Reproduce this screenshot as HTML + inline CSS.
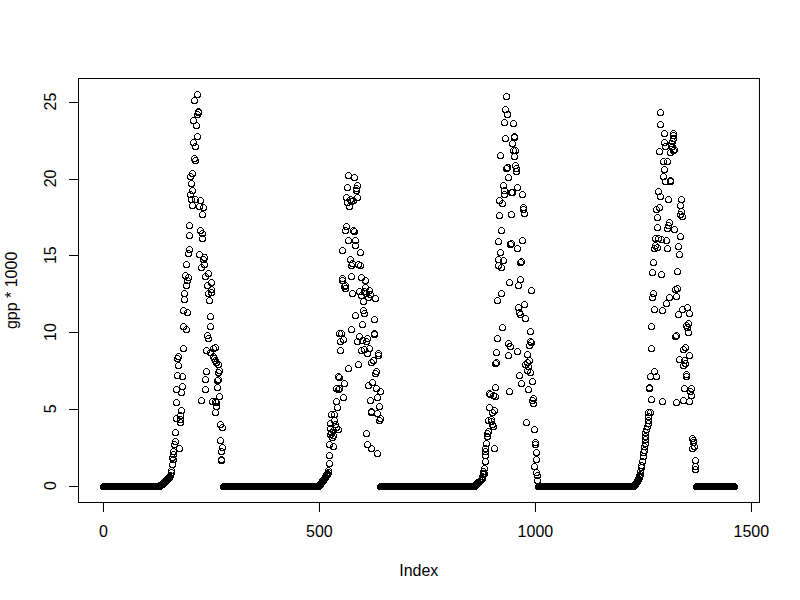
<!DOCTYPE html><html><head><meta charset="utf-8"><title>plot</title><style>html,body{margin:0;padding:0;background:#fff;width:800px;height:600px;overflow:hidden;font-family:"Liberation Sans",sans-serif}</style></head><body><svg width="800" height="600" viewBox="0 0 800 600" style="position:absolute;left:0;top:0">
<rect x="0" y="0" width="800" height="600" fill="#fff"/>
<g fill="none" stroke="#000" stroke-width="1" shape-rendering="crispEdges">
<rect x="78.5" y="78.5" width="681.0" height="424.0"/>
<line x1="103.5" y1="502.5" x2="103.5" y2="512"/>
<line x1="319.5" y1="502.5" x2="319.5" y2="512"/>
<line x1="535.5" y1="502.5" x2="535.5" y2="512"/>
<line x1="751.5" y1="502.5" x2="751.5" y2="512"/>
<line x1="69" y1="486.5" x2="78.5" y2="486.5"/>
<line x1="69" y1="409.5" x2="78.5" y2="409.5"/>
<line x1="69" y1="332.5" x2="78.5" y2="332.5"/>
<line x1="69" y1="255.5" x2="78.5" y2="255.5"/>
<line x1="69" y1="179.5" x2="78.5" y2="179.5"/>
<line x1="69" y1="102.5" x2="78.5" y2="102.5"/>
</g>
<g fill="none" stroke="#000" stroke-width="1" shape-rendering="crispEdges">
<circle cx="103.5" cy="486.5" r="3"/>
<circle cx="104.5" cy="486.5" r="3"/>
<circle cx="104.5" cy="486.5" r="3"/>
<circle cx="105.5" cy="486.5" r="3"/>
<circle cx="105.5" cy="486.5" r="3"/>
<circle cx="106.5" cy="486.5" r="3"/>
<circle cx="106.5" cy="486.5" r="3"/>
<circle cx="106.5" cy="486.5" r="3"/>
<circle cx="107.5" cy="486.5" r="3"/>
<circle cx="107.5" cy="486.5" r="3"/>
<circle cx="108.5" cy="486.5" r="3"/>
<circle cx="108.5" cy="486.5" r="3"/>
<circle cx="109.5" cy="486.5" r="3"/>
<circle cx="109.5" cy="486.5" r="3"/>
<circle cx="109.5" cy="486.5" r="3"/>
<circle cx="110.5" cy="486.5" r="3"/>
<circle cx="110.5" cy="486.5" r="3"/>
<circle cx="111.5" cy="486.5" r="3"/>
<circle cx="111.5" cy="486.5" r="3"/>
<circle cx="112.5" cy="486.5" r="3"/>
<circle cx="112.5" cy="486.5" r="3"/>
<circle cx="113.5" cy="486.5" r="3"/>
<circle cx="113.5" cy="486.5" r="3"/>
<circle cx="113.5" cy="486.5" r="3"/>
<circle cx="114.5" cy="486.5" r="3"/>
<circle cx="114.5" cy="486.5" r="3"/>
<circle cx="115.5" cy="486.5" r="3"/>
<circle cx="115.5" cy="486.5" r="3"/>
<circle cx="116.5" cy="486.5" r="3"/>
<circle cx="116.5" cy="486.5" r="3"/>
<circle cx="116.5" cy="486.5" r="3"/>
<circle cx="117.5" cy="486.5" r="3"/>
<circle cx="117.5" cy="486.5" r="3"/>
<circle cx="118.5" cy="486.5" r="3"/>
<circle cx="118.5" cy="486.5" r="3"/>
<circle cx="119.5" cy="486.5" r="3"/>
<circle cx="119.5" cy="486.5" r="3"/>
<circle cx="119.5" cy="486.5" r="3"/>
<circle cx="120.5" cy="486.5" r="3"/>
<circle cx="120.5" cy="486.5" r="3"/>
<circle cx="121.5" cy="486.5" r="3"/>
<circle cx="121.5" cy="486.5" r="3"/>
<circle cx="122.5" cy="486.5" r="3"/>
<circle cx="122.5" cy="486.5" r="3"/>
<circle cx="122.5" cy="486.5" r="3"/>
<circle cx="123.5" cy="486.5" r="3"/>
<circle cx="123.5" cy="486.5" r="3"/>
<circle cx="124.5" cy="486.5" r="3"/>
<circle cx="124.5" cy="486.5" r="3"/>
<circle cx="125.5" cy="486.5" r="3"/>
<circle cx="125.5" cy="486.5" r="3"/>
<circle cx="125.5" cy="486.5" r="3"/>
<circle cx="126.5" cy="486.5" r="3"/>
<circle cx="126.5" cy="486.5" r="3"/>
<circle cx="127.5" cy="486.5" r="3"/>
<circle cx="127.5" cy="486.5" r="3"/>
<circle cx="128.5" cy="486.5" r="3"/>
<circle cx="128.5" cy="486.5" r="3"/>
<circle cx="128.5" cy="486.5" r="3"/>
<circle cx="129.5" cy="486.5" r="3"/>
<circle cx="129.5" cy="486.5" r="3"/>
<circle cx="130.5" cy="486.5" r="3"/>
<circle cx="130.5" cy="486.5" r="3"/>
<circle cx="131.5" cy="486.5" r="3"/>
<circle cx="131.5" cy="486.5" r="3"/>
<circle cx="132.5" cy="486.5" r="3"/>
<circle cx="132.5" cy="486.5" r="3"/>
<circle cx="132.5" cy="486.5" r="3"/>
<circle cx="133.5" cy="486.5" r="3"/>
<circle cx="133.5" cy="486.5" r="3"/>
<circle cx="134.5" cy="486.5" r="3"/>
<circle cx="134.5" cy="486.5" r="3"/>
<circle cx="135.5" cy="486.5" r="3"/>
<circle cx="135.5" cy="486.5" r="3"/>
<circle cx="135.5" cy="486.5" r="3"/>
<circle cx="136.5" cy="486.5" r="3"/>
<circle cx="136.5" cy="486.5" r="3"/>
<circle cx="137.5" cy="486.5" r="3"/>
<circle cx="137.5" cy="486.5" r="3"/>
<circle cx="138.5" cy="486.5" r="3"/>
<circle cx="138.5" cy="486.5" r="3"/>
<circle cx="138.5" cy="486.5" r="3"/>
<circle cx="139.5" cy="486.5" r="3"/>
<circle cx="139.5" cy="486.5" r="3"/>
<circle cx="140.5" cy="486.5" r="3"/>
<circle cx="140.5" cy="486.5" r="3"/>
<circle cx="141.5" cy="486.5" r="3"/>
<circle cx="141.5" cy="486.5" r="3"/>
<circle cx="141.5" cy="486.5" r="3"/>
<circle cx="142.5" cy="486.5" r="3"/>
<circle cx="142.5" cy="486.5" r="3"/>
<circle cx="143.5" cy="486.5" r="3"/>
<circle cx="143.5" cy="486.5" r="3"/>
<circle cx="144.5" cy="486.5" r="3"/>
<circle cx="144.5" cy="486.5" r="3"/>
<circle cx="144.5" cy="486.5" r="3"/>
<circle cx="145.5" cy="486.5" r="3"/>
<circle cx="145.5" cy="486.5" r="3"/>
<circle cx="146.5" cy="486.5" r="3"/>
<circle cx="146.5" cy="486.5" r="3"/>
<circle cx="147.5" cy="486.5" r="3"/>
<circle cx="147.5" cy="486.5" r="3"/>
<circle cx="147.5" cy="486.5" r="3"/>
<circle cx="148.5" cy="486.5" r="3"/>
<circle cx="148.5" cy="486.5" r="3"/>
<circle cx="149.5" cy="486.5" r="3"/>
<circle cx="149.5" cy="486.5" r="3"/>
<circle cx="150.5" cy="486.5" r="3"/>
<circle cx="150.5" cy="486.5" r="3"/>
<circle cx="151.5" cy="486.5" r="3"/>
<circle cx="151.5" cy="486.5" r="3"/>
<circle cx="151.5" cy="486.5" r="3"/>
<circle cx="152.5" cy="486.5" r="3"/>
<circle cx="152.5" cy="486.5" r="3"/>
<circle cx="153.5" cy="486.5" r="3"/>
<circle cx="153.5" cy="486.5" r="3"/>
<circle cx="154.5" cy="486.5" r="3"/>
<circle cx="154.5" cy="486.5" r="3"/>
<circle cx="154.5" cy="486.5" r="3"/>
<circle cx="155.5" cy="486.5" r="3"/>
<circle cx="155.5" cy="486.5" r="3"/>
<circle cx="156.5" cy="486.5" r="3"/>
<circle cx="156.5" cy="486.5" r="3"/>
<circle cx="157.5" cy="486.5" r="3"/>
<circle cx="157.5" cy="486.5" r="3"/>
<circle cx="223.5" cy="486.5" r="3"/>
<circle cx="223.5" cy="486.5" r="3"/>
<circle cx="224.5" cy="486.5" r="3"/>
<circle cx="224.5" cy="486.5" r="3"/>
<circle cx="225.5" cy="486.5" r="3"/>
<circle cx="225.5" cy="486.5" r="3"/>
<circle cx="226.5" cy="486.5" r="3"/>
<circle cx="226.5" cy="486.5" r="3"/>
<circle cx="227.5" cy="486.5" r="3"/>
<circle cx="227.5" cy="486.5" r="3"/>
<circle cx="227.5" cy="486.5" r="3"/>
<circle cx="228.5" cy="486.5" r="3"/>
<circle cx="228.5" cy="486.5" r="3"/>
<circle cx="229.5" cy="486.5" r="3"/>
<circle cx="229.5" cy="486.5" r="3"/>
<circle cx="230.5" cy="486.5" r="3"/>
<circle cx="230.5" cy="486.5" r="3"/>
<circle cx="230.5" cy="486.5" r="3"/>
<circle cx="231.5" cy="486.5" r="3"/>
<circle cx="231.5" cy="486.5" r="3"/>
<circle cx="232.5" cy="486.5" r="3"/>
<circle cx="232.5" cy="486.5" r="3"/>
<circle cx="233.5" cy="486.5" r="3"/>
<circle cx="233.5" cy="486.5" r="3"/>
<circle cx="233.5" cy="486.5" r="3"/>
<circle cx="234.5" cy="486.5" r="3"/>
<circle cx="234.5" cy="486.5" r="3"/>
<circle cx="235.5" cy="486.5" r="3"/>
<circle cx="235.5" cy="486.5" r="3"/>
<circle cx="236.5" cy="486.5" r="3"/>
<circle cx="236.5" cy="486.5" r="3"/>
<circle cx="236.5" cy="486.5" r="3"/>
<circle cx="237.5" cy="486.5" r="3"/>
<circle cx="237.5" cy="486.5" r="3"/>
<circle cx="238.5" cy="486.5" r="3"/>
<circle cx="238.5" cy="486.5" r="3"/>
<circle cx="239.5" cy="486.5" r="3"/>
<circle cx="239.5" cy="486.5" r="3"/>
<circle cx="239.5" cy="486.5" r="3"/>
<circle cx="240.5" cy="486.5" r="3"/>
<circle cx="240.5" cy="486.5" r="3"/>
<circle cx="241.5" cy="486.5" r="3"/>
<circle cx="241.5" cy="486.5" r="3"/>
<circle cx="242.5" cy="486.5" r="3"/>
<circle cx="242.5" cy="486.5" r="3"/>
<circle cx="243.5" cy="486.5" r="3"/>
<circle cx="243.5" cy="486.5" r="3"/>
<circle cx="243.5" cy="486.5" r="3"/>
<circle cx="244.5" cy="486.5" r="3"/>
<circle cx="244.5" cy="486.5" r="3"/>
<circle cx="245.5" cy="486.5" r="3"/>
<circle cx="245.5" cy="486.5" r="3"/>
<circle cx="246.5" cy="486.5" r="3"/>
<circle cx="246.5" cy="486.5" r="3"/>
<circle cx="246.5" cy="486.5" r="3"/>
<circle cx="247.5" cy="486.5" r="3"/>
<circle cx="247.5" cy="486.5" r="3"/>
<circle cx="248.5" cy="486.5" r="3"/>
<circle cx="248.5" cy="486.5" r="3"/>
<circle cx="249.5" cy="486.5" r="3"/>
<circle cx="249.5" cy="486.5" r="3"/>
<circle cx="249.5" cy="486.5" r="3"/>
<circle cx="250.5" cy="486.5" r="3"/>
<circle cx="250.5" cy="486.5" r="3"/>
<circle cx="251.5" cy="486.5" r="3"/>
<circle cx="251.5" cy="486.5" r="3"/>
<circle cx="252.5" cy="486.5" r="3"/>
<circle cx="252.5" cy="486.5" r="3"/>
<circle cx="252.5" cy="486.5" r="3"/>
<circle cx="253.5" cy="486.5" r="3"/>
<circle cx="253.5" cy="486.5" r="3"/>
<circle cx="254.5" cy="486.5" r="3"/>
<circle cx="254.5" cy="486.5" r="3"/>
<circle cx="255.5" cy="486.5" r="3"/>
<circle cx="255.5" cy="486.5" r="3"/>
<circle cx="255.5" cy="486.5" r="3"/>
<circle cx="256.5" cy="486.5" r="3"/>
<circle cx="256.5" cy="486.5" r="3"/>
<circle cx="257.5" cy="486.5" r="3"/>
<circle cx="257.5" cy="486.5" r="3"/>
<circle cx="258.5" cy="486.5" r="3"/>
<circle cx="258.5" cy="486.5" r="3"/>
<circle cx="258.5" cy="486.5" r="3"/>
<circle cx="259.5" cy="486.5" r="3"/>
<circle cx="259.5" cy="486.5" r="3"/>
<circle cx="260.5" cy="486.5" r="3"/>
<circle cx="260.5" cy="486.5" r="3"/>
<circle cx="261.5" cy="486.5" r="3"/>
<circle cx="261.5" cy="486.5" r="3"/>
<circle cx="262.5" cy="486.5" r="3"/>
<circle cx="262.5" cy="486.5" r="3"/>
<circle cx="262.5" cy="486.5" r="3"/>
<circle cx="263.5" cy="486.5" r="3"/>
<circle cx="263.5" cy="486.5" r="3"/>
<circle cx="264.5" cy="486.5" r="3"/>
<circle cx="264.5" cy="486.5" r="3"/>
<circle cx="265.5" cy="486.5" r="3"/>
<circle cx="265.5" cy="486.5" r="3"/>
<circle cx="265.5" cy="486.5" r="3"/>
<circle cx="266.5" cy="486.5" r="3"/>
<circle cx="266.5" cy="486.5" r="3"/>
<circle cx="267.5" cy="486.5" r="3"/>
<circle cx="267.5" cy="486.5" r="3"/>
<circle cx="268.5" cy="486.5" r="3"/>
<circle cx="268.5" cy="486.5" r="3"/>
<circle cx="268.5" cy="486.5" r="3"/>
<circle cx="269.5" cy="486.5" r="3"/>
<circle cx="269.5" cy="486.5" r="3"/>
<circle cx="270.5" cy="486.5" r="3"/>
<circle cx="270.5" cy="486.5" r="3"/>
<circle cx="271.5" cy="486.5" r="3"/>
<circle cx="271.5" cy="486.5" r="3"/>
<circle cx="271.5" cy="486.5" r="3"/>
<circle cx="272.5" cy="486.5" r="3"/>
<circle cx="272.5" cy="486.5" r="3"/>
<circle cx="273.5" cy="486.5" r="3"/>
<circle cx="273.5" cy="486.5" r="3"/>
<circle cx="274.5" cy="486.5" r="3"/>
<circle cx="274.5" cy="486.5" r="3"/>
<circle cx="274.5" cy="486.5" r="3"/>
<circle cx="275.5" cy="486.5" r="3"/>
<circle cx="275.5" cy="486.5" r="3"/>
<circle cx="276.5" cy="486.5" r="3"/>
<circle cx="276.5" cy="486.5" r="3"/>
<circle cx="277.5" cy="486.5" r="3"/>
<circle cx="277.5" cy="486.5" r="3"/>
<circle cx="277.5" cy="486.5" r="3"/>
<circle cx="278.5" cy="486.5" r="3"/>
<circle cx="278.5" cy="486.5" r="3"/>
<circle cx="279.5" cy="486.5" r="3"/>
<circle cx="279.5" cy="486.5" r="3"/>
<circle cx="280.5" cy="486.5" r="3"/>
<circle cx="280.5" cy="486.5" r="3"/>
<circle cx="281.5" cy="486.5" r="3"/>
<circle cx="281.5" cy="486.5" r="3"/>
<circle cx="281.5" cy="486.5" r="3"/>
<circle cx="282.5" cy="486.5" r="3"/>
<circle cx="282.5" cy="486.5" r="3"/>
<circle cx="283.5" cy="486.5" r="3"/>
<circle cx="283.5" cy="486.5" r="3"/>
<circle cx="284.5" cy="486.5" r="3"/>
<circle cx="284.5" cy="486.5" r="3"/>
<circle cx="284.5" cy="486.5" r="3"/>
<circle cx="285.5" cy="486.5" r="3"/>
<circle cx="285.5" cy="486.5" r="3"/>
<circle cx="286.5" cy="486.5" r="3"/>
<circle cx="286.5" cy="486.5" r="3"/>
<circle cx="287.5" cy="486.5" r="3"/>
<circle cx="287.5" cy="486.5" r="3"/>
<circle cx="287.5" cy="486.5" r="3"/>
<circle cx="288.5" cy="486.5" r="3"/>
<circle cx="288.5" cy="486.5" r="3"/>
<circle cx="289.5" cy="486.5" r="3"/>
<circle cx="289.5" cy="486.5" r="3"/>
<circle cx="290.5" cy="486.5" r="3"/>
<circle cx="290.5" cy="486.5" r="3"/>
<circle cx="290.5" cy="486.5" r="3"/>
<circle cx="291.5" cy="486.5" r="3"/>
<circle cx="291.5" cy="486.5" r="3"/>
<circle cx="292.5" cy="486.5" r="3"/>
<circle cx="292.5" cy="486.5" r="3"/>
<circle cx="293.5" cy="486.5" r="3"/>
<circle cx="293.5" cy="486.5" r="3"/>
<circle cx="293.5" cy="486.5" r="3"/>
<circle cx="294.5" cy="486.5" r="3"/>
<circle cx="294.5" cy="486.5" r="3"/>
<circle cx="295.5" cy="486.5" r="3"/>
<circle cx="295.5" cy="486.5" r="3"/>
<circle cx="296.5" cy="486.5" r="3"/>
<circle cx="296.5" cy="486.5" r="3"/>
<circle cx="296.5" cy="486.5" r="3"/>
<circle cx="297.5" cy="486.5" r="3"/>
<circle cx="297.5" cy="486.5" r="3"/>
<circle cx="298.5" cy="486.5" r="3"/>
<circle cx="298.5" cy="486.5" r="3"/>
<circle cx="299.5" cy="486.5" r="3"/>
<circle cx="299.5" cy="486.5" r="3"/>
<circle cx="300.5" cy="486.5" r="3"/>
<circle cx="300.5" cy="486.5" r="3"/>
<circle cx="300.5" cy="486.5" r="3"/>
<circle cx="301.5" cy="486.5" r="3"/>
<circle cx="301.5" cy="486.5" r="3"/>
<circle cx="302.5" cy="486.5" r="3"/>
<circle cx="302.5" cy="486.5" r="3"/>
<circle cx="303.5" cy="486.5" r="3"/>
<circle cx="303.5" cy="486.5" r="3"/>
<circle cx="303.5" cy="486.5" r="3"/>
<circle cx="304.5" cy="486.5" r="3"/>
<circle cx="304.5" cy="486.5" r="3"/>
<circle cx="305.5" cy="486.5" r="3"/>
<circle cx="305.5" cy="486.5" r="3"/>
<circle cx="306.5" cy="486.5" r="3"/>
<circle cx="306.5" cy="486.5" r="3"/>
<circle cx="306.5" cy="486.5" r="3"/>
<circle cx="307.5" cy="486.5" r="3"/>
<circle cx="307.5" cy="486.5" r="3"/>
<circle cx="308.5" cy="486.5" r="3"/>
<circle cx="308.5" cy="486.5" r="3"/>
<circle cx="309.5" cy="486.5" r="3"/>
<circle cx="309.5" cy="486.5" r="3"/>
<circle cx="309.5" cy="486.5" r="3"/>
<circle cx="310.5" cy="486.5" r="3"/>
<circle cx="310.5" cy="486.5" r="3"/>
<circle cx="311.5" cy="486.5" r="3"/>
<circle cx="311.5" cy="486.5" r="3"/>
<circle cx="312.5" cy="486.5" r="3"/>
<circle cx="312.5" cy="486.5" r="3"/>
<circle cx="312.5" cy="486.5" r="3"/>
<circle cx="313.5" cy="486.5" r="3"/>
<circle cx="313.5" cy="486.5" r="3"/>
<circle cx="314.5" cy="486.5" r="3"/>
<circle cx="314.5" cy="486.5" r="3"/>
<circle cx="315.5" cy="486.5" r="3"/>
<circle cx="315.5" cy="486.5" r="3"/>
<circle cx="315.5" cy="486.5" r="3"/>
<circle cx="316.5" cy="486.5" r="3"/>
<circle cx="316.5" cy="486.5" r="3"/>
<circle cx="317.5" cy="486.5" r="3"/>
<circle cx="317.5" cy="486.5" r="3"/>
<circle cx="318.5" cy="486.5" r="3"/>
<circle cx="380.5" cy="486.5" r="3"/>
<circle cx="380.5" cy="486.5" r="3"/>
<circle cx="381.5" cy="486.5" r="3"/>
<circle cx="381.5" cy="486.5" r="3"/>
<circle cx="382.5" cy="486.5" r="3"/>
<circle cx="382.5" cy="486.5" r="3"/>
<circle cx="382.5" cy="486.5" r="3"/>
<circle cx="383.5" cy="486.5" r="3"/>
<circle cx="383.5" cy="486.5" r="3"/>
<circle cx="384.5" cy="486.5" r="3"/>
<circle cx="384.5" cy="486.5" r="3"/>
<circle cx="385.5" cy="486.5" r="3"/>
<circle cx="385.5" cy="486.5" r="3"/>
<circle cx="385.5" cy="486.5" r="3"/>
<circle cx="386.5" cy="486.5" r="3"/>
<circle cx="386.5" cy="486.5" r="3"/>
<circle cx="387.5" cy="486.5" r="3"/>
<circle cx="387.5" cy="486.5" r="3"/>
<circle cx="388.5" cy="486.5" r="3"/>
<circle cx="388.5" cy="486.5" r="3"/>
<circle cx="388.5" cy="486.5" r="3"/>
<circle cx="389.5" cy="486.5" r="3"/>
<circle cx="389.5" cy="486.5" r="3"/>
<circle cx="390.5" cy="486.5" r="3"/>
<circle cx="390.5" cy="486.5" r="3"/>
<circle cx="391.5" cy="486.5" r="3"/>
<circle cx="391.5" cy="486.5" r="3"/>
<circle cx="391.5" cy="486.5" r="3"/>
<circle cx="392.5" cy="486.5" r="3"/>
<circle cx="392.5" cy="486.5" r="3"/>
<circle cx="393.5" cy="486.5" r="3"/>
<circle cx="393.5" cy="486.5" r="3"/>
<circle cx="394.5" cy="486.5" r="3"/>
<circle cx="394.5" cy="486.5" r="3"/>
<circle cx="395.5" cy="486.5" r="3"/>
<circle cx="395.5" cy="486.5" r="3"/>
<circle cx="395.5" cy="486.5" r="3"/>
<circle cx="396.5" cy="486.5" r="3"/>
<circle cx="396.5" cy="486.5" r="3"/>
<circle cx="397.5" cy="486.5" r="3"/>
<circle cx="397.5" cy="486.5" r="3"/>
<circle cx="398.5" cy="486.5" r="3"/>
<circle cx="398.5" cy="486.5" r="3"/>
<circle cx="398.5" cy="486.5" r="3"/>
<circle cx="399.5" cy="486.5" r="3"/>
<circle cx="399.5" cy="486.5" r="3"/>
<circle cx="400.5" cy="486.5" r="3"/>
<circle cx="400.5" cy="486.5" r="3"/>
<circle cx="401.5" cy="486.5" r="3"/>
<circle cx="401.5" cy="486.5" r="3"/>
<circle cx="401.5" cy="486.5" r="3"/>
<circle cx="402.5" cy="486.5" r="3"/>
<circle cx="402.5" cy="486.5" r="3"/>
<circle cx="403.5" cy="486.5" r="3"/>
<circle cx="403.5" cy="486.5" r="3"/>
<circle cx="404.5" cy="486.5" r="3"/>
<circle cx="404.5" cy="486.5" r="3"/>
<circle cx="404.5" cy="486.5" r="3"/>
<circle cx="405.5" cy="486.5" r="3"/>
<circle cx="405.5" cy="486.5" r="3"/>
<circle cx="406.5" cy="486.5" r="3"/>
<circle cx="406.5" cy="486.5" r="3"/>
<circle cx="407.5" cy="486.5" r="3"/>
<circle cx="407.5" cy="486.5" r="3"/>
<circle cx="407.5" cy="486.5" r="3"/>
<circle cx="408.5" cy="486.5" r="3"/>
<circle cx="408.5" cy="486.5" r="3"/>
<circle cx="409.5" cy="486.5" r="3"/>
<circle cx="409.5" cy="486.5" r="3"/>
<circle cx="410.5" cy="486.5" r="3"/>
<circle cx="410.5" cy="486.5" r="3"/>
<circle cx="410.5" cy="486.5" r="3"/>
<circle cx="411.5" cy="486.5" r="3"/>
<circle cx="411.5" cy="486.5" r="3"/>
<circle cx="412.5" cy="486.5" r="3"/>
<circle cx="412.5" cy="486.5" r="3"/>
<circle cx="413.5" cy="486.5" r="3"/>
<circle cx="413.5" cy="486.5" r="3"/>
<circle cx="414.5" cy="486.5" r="3"/>
<circle cx="414.5" cy="486.5" r="3"/>
<circle cx="414.5" cy="486.5" r="3"/>
<circle cx="415.5" cy="486.5" r="3"/>
<circle cx="415.5" cy="486.5" r="3"/>
<circle cx="416.5" cy="486.5" r="3"/>
<circle cx="416.5" cy="486.5" r="3"/>
<circle cx="417.5" cy="486.5" r="3"/>
<circle cx="417.5" cy="486.5" r="3"/>
<circle cx="417.5" cy="486.5" r="3"/>
<circle cx="418.5" cy="486.5" r="3"/>
<circle cx="418.5" cy="486.5" r="3"/>
<circle cx="419.5" cy="486.5" r="3"/>
<circle cx="419.5" cy="486.5" r="3"/>
<circle cx="420.5" cy="486.5" r="3"/>
<circle cx="420.5" cy="486.5" r="3"/>
<circle cx="420.5" cy="486.5" r="3"/>
<circle cx="421.5" cy="486.5" r="3"/>
<circle cx="421.5" cy="486.5" r="3"/>
<circle cx="422.5" cy="486.5" r="3"/>
<circle cx="422.5" cy="486.5" r="3"/>
<circle cx="423.5" cy="486.5" r="3"/>
<circle cx="423.5" cy="486.5" r="3"/>
<circle cx="423.5" cy="486.5" r="3"/>
<circle cx="424.5" cy="486.5" r="3"/>
<circle cx="424.5" cy="486.5" r="3"/>
<circle cx="425.5" cy="486.5" r="3"/>
<circle cx="425.5" cy="486.5" r="3"/>
<circle cx="426.5" cy="486.5" r="3"/>
<circle cx="426.5" cy="486.5" r="3"/>
<circle cx="426.5" cy="486.5" r="3"/>
<circle cx="427.5" cy="486.5" r="3"/>
<circle cx="427.5" cy="486.5" r="3"/>
<circle cx="428.5" cy="486.5" r="3"/>
<circle cx="428.5" cy="486.5" r="3"/>
<circle cx="429.5" cy="486.5" r="3"/>
<circle cx="429.5" cy="486.5" r="3"/>
<circle cx="429.5" cy="486.5" r="3"/>
<circle cx="430.5" cy="486.5" r="3"/>
<circle cx="430.5" cy="486.5" r="3"/>
<circle cx="431.5" cy="486.5" r="3"/>
<circle cx="431.5" cy="486.5" r="3"/>
<circle cx="432.5" cy="486.5" r="3"/>
<circle cx="432.5" cy="486.5" r="3"/>
<circle cx="433.5" cy="486.5" r="3"/>
<circle cx="433.5" cy="486.5" r="3"/>
<circle cx="433.5" cy="486.5" r="3"/>
<circle cx="434.5" cy="486.5" r="3"/>
<circle cx="434.5" cy="486.5" r="3"/>
<circle cx="435.5" cy="486.5" r="3"/>
<circle cx="435.5" cy="486.5" r="3"/>
<circle cx="436.5" cy="486.5" r="3"/>
<circle cx="436.5" cy="486.5" r="3"/>
<circle cx="436.5" cy="486.5" r="3"/>
<circle cx="437.5" cy="486.5" r="3"/>
<circle cx="437.5" cy="486.5" r="3"/>
<circle cx="438.5" cy="486.5" r="3"/>
<circle cx="438.5" cy="486.5" r="3"/>
<circle cx="439.5" cy="486.5" r="3"/>
<circle cx="439.5" cy="486.5" r="3"/>
<circle cx="439.5" cy="486.5" r="3"/>
<circle cx="440.5" cy="486.5" r="3"/>
<circle cx="440.5" cy="486.5" r="3"/>
<circle cx="441.5" cy="486.5" r="3"/>
<circle cx="441.5" cy="486.5" r="3"/>
<circle cx="442.5" cy="486.5" r="3"/>
<circle cx="442.5" cy="486.5" r="3"/>
<circle cx="442.5" cy="486.5" r="3"/>
<circle cx="443.5" cy="486.5" r="3"/>
<circle cx="443.5" cy="486.5" r="3"/>
<circle cx="444.5" cy="486.5" r="3"/>
<circle cx="444.5" cy="486.5" r="3"/>
<circle cx="445.5" cy="486.5" r="3"/>
<circle cx="445.5" cy="486.5" r="3"/>
<circle cx="445.5" cy="486.5" r="3"/>
<circle cx="446.5" cy="486.5" r="3"/>
<circle cx="446.5" cy="486.5" r="3"/>
<circle cx="447.5" cy="486.5" r="3"/>
<circle cx="447.5" cy="486.5" r="3"/>
<circle cx="448.5" cy="486.5" r="3"/>
<circle cx="448.5" cy="486.5" r="3"/>
<circle cx="448.5" cy="486.5" r="3"/>
<circle cx="449.5" cy="486.5" r="3"/>
<circle cx="449.5" cy="486.5" r="3"/>
<circle cx="450.5" cy="486.5" r="3"/>
<circle cx="450.5" cy="486.5" r="3"/>
<circle cx="451.5" cy="486.5" r="3"/>
<circle cx="451.5" cy="486.5" r="3"/>
<circle cx="452.5" cy="486.5" r="3"/>
<circle cx="452.5" cy="486.5" r="3"/>
<circle cx="452.5" cy="486.5" r="3"/>
<circle cx="453.5" cy="486.5" r="3"/>
<circle cx="453.5" cy="486.5" r="3"/>
<circle cx="454.5" cy="486.5" r="3"/>
<circle cx="454.5" cy="486.5" r="3"/>
<circle cx="455.5" cy="486.5" r="3"/>
<circle cx="455.5" cy="486.5" r="3"/>
<circle cx="455.5" cy="486.5" r="3"/>
<circle cx="456.5" cy="486.5" r="3"/>
<circle cx="456.5" cy="486.5" r="3"/>
<circle cx="457.5" cy="486.5" r="3"/>
<circle cx="457.5" cy="486.5" r="3"/>
<circle cx="458.5" cy="486.5" r="3"/>
<circle cx="458.5" cy="486.5" r="3"/>
<circle cx="458.5" cy="486.5" r="3"/>
<circle cx="459.5" cy="486.5" r="3"/>
<circle cx="459.5" cy="486.5" r="3"/>
<circle cx="460.5" cy="486.5" r="3"/>
<circle cx="460.5" cy="486.5" r="3"/>
<circle cx="461.5" cy="486.5" r="3"/>
<circle cx="461.5" cy="486.5" r="3"/>
<circle cx="461.5" cy="486.5" r="3"/>
<circle cx="462.5" cy="486.5" r="3"/>
<circle cx="462.5" cy="486.5" r="3"/>
<circle cx="463.5" cy="486.5" r="3"/>
<circle cx="463.5" cy="486.5" r="3"/>
<circle cx="464.5" cy="486.5" r="3"/>
<circle cx="464.5" cy="486.5" r="3"/>
<circle cx="464.5" cy="486.5" r="3"/>
<circle cx="465.5" cy="486.5" r="3"/>
<circle cx="465.5" cy="486.5" r="3"/>
<circle cx="466.5" cy="486.5" r="3"/>
<circle cx="466.5" cy="486.5" r="3"/>
<circle cx="467.5" cy="486.5" r="3"/>
<circle cx="467.5" cy="486.5" r="3"/>
<circle cx="468.5" cy="486.5" r="3"/>
<circle cx="468.5" cy="486.5" r="3"/>
<circle cx="468.5" cy="486.5" r="3"/>
<circle cx="469.5" cy="486.5" r="3"/>
<circle cx="469.5" cy="486.5" r="3"/>
<circle cx="470.5" cy="486.5" r="3"/>
<circle cx="470.5" cy="486.5" r="3"/>
<circle cx="471.5" cy="486.5" r="3"/>
<circle cx="471.5" cy="486.5" r="3"/>
<circle cx="471.5" cy="486.5" r="3"/>
<circle cx="472.5" cy="486.5" r="3"/>
<circle cx="472.5" cy="486.5" r="3"/>
<circle cx="473.5" cy="486.5" r="3"/>
<circle cx="473.5" cy="486.5" r="3"/>
<circle cx="474.5" cy="486.5" r="3"/>
<circle cx="538.5" cy="486.5" r="3"/>
<circle cx="538.5" cy="486.5" r="3"/>
<circle cx="539.5" cy="486.5" r="3"/>
<circle cx="539.5" cy="486.5" r="3"/>
<circle cx="540.5" cy="486.5" r="3"/>
<circle cx="540.5" cy="486.5" r="3"/>
<circle cx="540.5" cy="486.5" r="3"/>
<circle cx="541.5" cy="486.5" r="3"/>
<circle cx="541.5" cy="486.5" r="3"/>
<circle cx="542.5" cy="486.5" r="3"/>
<circle cx="542.5" cy="486.5" r="3"/>
<circle cx="543.5" cy="486.5" r="3"/>
<circle cx="543.5" cy="486.5" r="3"/>
<circle cx="544.5" cy="486.5" r="3"/>
<circle cx="544.5" cy="486.5" r="3"/>
<circle cx="544.5" cy="486.5" r="3"/>
<circle cx="545.5" cy="486.5" r="3"/>
<circle cx="545.5" cy="486.5" r="3"/>
<circle cx="546.5" cy="486.5" r="3"/>
<circle cx="546.5" cy="486.5" r="3"/>
<circle cx="547.5" cy="486.5" r="3"/>
<circle cx="547.5" cy="486.5" r="3"/>
<circle cx="547.5" cy="486.5" r="3"/>
<circle cx="548.5" cy="486.5" r="3"/>
<circle cx="548.5" cy="486.5" r="3"/>
<circle cx="549.5" cy="486.5" r="3"/>
<circle cx="549.5" cy="486.5" r="3"/>
<circle cx="550.5" cy="486.5" r="3"/>
<circle cx="550.5" cy="486.5" r="3"/>
<circle cx="550.5" cy="486.5" r="3"/>
<circle cx="551.5" cy="486.5" r="3"/>
<circle cx="551.5" cy="486.5" r="3"/>
<circle cx="552.5" cy="486.5" r="3"/>
<circle cx="552.5" cy="486.5" r="3"/>
<circle cx="553.5" cy="486.5" r="3"/>
<circle cx="553.5" cy="486.5" r="3"/>
<circle cx="553.5" cy="486.5" r="3"/>
<circle cx="554.5" cy="486.5" r="3"/>
<circle cx="554.5" cy="486.5" r="3"/>
<circle cx="555.5" cy="486.5" r="3"/>
<circle cx="555.5" cy="486.5" r="3"/>
<circle cx="556.5" cy="486.5" r="3"/>
<circle cx="556.5" cy="486.5" r="3"/>
<circle cx="556.5" cy="486.5" r="3"/>
<circle cx="557.5" cy="486.5" r="3"/>
<circle cx="557.5" cy="486.5" r="3"/>
<circle cx="558.5" cy="486.5" r="3"/>
<circle cx="558.5" cy="486.5" r="3"/>
<circle cx="559.5" cy="486.5" r="3"/>
<circle cx="559.5" cy="486.5" r="3"/>
<circle cx="559.5" cy="486.5" r="3"/>
<circle cx="560.5" cy="486.5" r="3"/>
<circle cx="560.5" cy="486.5" r="3"/>
<circle cx="561.5" cy="486.5" r="3"/>
<circle cx="561.5" cy="486.5" r="3"/>
<circle cx="562.5" cy="486.5" r="3"/>
<circle cx="562.5" cy="486.5" r="3"/>
<circle cx="563.5" cy="486.5" r="3"/>
<circle cx="563.5" cy="486.5" r="3"/>
<circle cx="563.5" cy="486.5" r="3"/>
<circle cx="564.5" cy="486.5" r="3"/>
<circle cx="564.5" cy="486.5" r="3"/>
<circle cx="565.5" cy="486.5" r="3"/>
<circle cx="565.5" cy="486.5" r="3"/>
<circle cx="566.5" cy="486.5" r="3"/>
<circle cx="566.5" cy="486.5" r="3"/>
<circle cx="566.5" cy="486.5" r="3"/>
<circle cx="567.5" cy="486.5" r="3"/>
<circle cx="567.5" cy="486.5" r="3"/>
<circle cx="568.5" cy="486.5" r="3"/>
<circle cx="568.5" cy="486.5" r="3"/>
<circle cx="569.5" cy="486.5" r="3"/>
<circle cx="569.5" cy="486.5" r="3"/>
<circle cx="569.5" cy="486.5" r="3"/>
<circle cx="570.5" cy="486.5" r="3"/>
<circle cx="570.5" cy="486.5" r="3"/>
<circle cx="571.5" cy="486.5" r="3"/>
<circle cx="571.5" cy="486.5" r="3"/>
<circle cx="572.5" cy="486.5" r="3"/>
<circle cx="572.5" cy="486.5" r="3"/>
<circle cx="572.5" cy="486.5" r="3"/>
<circle cx="573.5" cy="486.5" r="3"/>
<circle cx="573.5" cy="486.5" r="3"/>
<circle cx="574.5" cy="486.5" r="3"/>
<circle cx="574.5" cy="486.5" r="3"/>
<circle cx="575.5" cy="486.5" r="3"/>
<circle cx="575.5" cy="486.5" r="3"/>
<circle cx="575.5" cy="486.5" r="3"/>
<circle cx="576.5" cy="486.5" r="3"/>
<circle cx="576.5" cy="486.5" r="3"/>
<circle cx="577.5" cy="486.5" r="3"/>
<circle cx="577.5" cy="486.5" r="3"/>
<circle cx="578.5" cy="486.5" r="3"/>
<circle cx="578.5" cy="486.5" r="3"/>
<circle cx="578.5" cy="486.5" r="3"/>
<circle cx="579.5" cy="486.5" r="3"/>
<circle cx="579.5" cy="486.5" r="3"/>
<circle cx="580.5" cy="486.5" r="3"/>
<circle cx="580.5" cy="486.5" r="3"/>
<circle cx="581.5" cy="486.5" r="3"/>
<circle cx="581.5" cy="486.5" r="3"/>
<circle cx="582.5" cy="486.5" r="3"/>
<circle cx="582.5" cy="486.5" r="3"/>
<circle cx="582.5" cy="486.5" r="3"/>
<circle cx="583.5" cy="486.5" r="3"/>
<circle cx="583.5" cy="486.5" r="3"/>
<circle cx="584.5" cy="486.5" r="3"/>
<circle cx="584.5" cy="486.5" r="3"/>
<circle cx="585.5" cy="486.5" r="3"/>
<circle cx="585.5" cy="486.5" r="3"/>
<circle cx="585.5" cy="486.5" r="3"/>
<circle cx="586.5" cy="486.5" r="3"/>
<circle cx="586.5" cy="486.5" r="3"/>
<circle cx="587.5" cy="486.5" r="3"/>
<circle cx="587.5" cy="486.5" r="3"/>
<circle cx="588.5" cy="486.5" r="3"/>
<circle cx="588.5" cy="486.5" r="3"/>
<circle cx="588.5" cy="486.5" r="3"/>
<circle cx="589.5" cy="486.5" r="3"/>
<circle cx="589.5" cy="486.5" r="3"/>
<circle cx="590.5" cy="486.5" r="3"/>
<circle cx="590.5" cy="486.5" r="3"/>
<circle cx="591.5" cy="486.5" r="3"/>
<circle cx="591.5" cy="486.5" r="3"/>
<circle cx="591.5" cy="486.5" r="3"/>
<circle cx="592.5" cy="486.5" r="3"/>
<circle cx="592.5" cy="486.5" r="3"/>
<circle cx="593.5" cy="486.5" r="3"/>
<circle cx="593.5" cy="486.5" r="3"/>
<circle cx="594.5" cy="486.5" r="3"/>
<circle cx="594.5" cy="486.5" r="3"/>
<circle cx="594.5" cy="486.5" r="3"/>
<circle cx="595.5" cy="486.5" r="3"/>
<circle cx="595.5" cy="486.5" r="3"/>
<circle cx="596.5" cy="486.5" r="3"/>
<circle cx="596.5" cy="486.5" r="3"/>
<circle cx="597.5" cy="486.5" r="3"/>
<circle cx="597.5" cy="486.5" r="3"/>
<circle cx="597.5" cy="486.5" r="3"/>
<circle cx="598.5" cy="486.5" r="3"/>
<circle cx="598.5" cy="486.5" r="3"/>
<circle cx="599.5" cy="486.5" r="3"/>
<circle cx="599.5" cy="486.5" r="3"/>
<circle cx="600.5" cy="486.5" r="3"/>
<circle cx="600.5" cy="486.5" r="3"/>
<circle cx="601.5" cy="486.5" r="3"/>
<circle cx="601.5" cy="486.5" r="3"/>
<circle cx="601.5" cy="486.5" r="3"/>
<circle cx="602.5" cy="486.5" r="3"/>
<circle cx="602.5" cy="486.5" r="3"/>
<circle cx="603.5" cy="486.5" r="3"/>
<circle cx="603.5" cy="486.5" r="3"/>
<circle cx="604.5" cy="486.5" r="3"/>
<circle cx="604.5" cy="486.5" r="3"/>
<circle cx="604.5" cy="486.5" r="3"/>
<circle cx="605.5" cy="486.5" r="3"/>
<circle cx="605.5" cy="486.5" r="3"/>
<circle cx="606.5" cy="486.5" r="3"/>
<circle cx="606.5" cy="486.5" r="3"/>
<circle cx="607.5" cy="486.5" r="3"/>
<circle cx="607.5" cy="486.5" r="3"/>
<circle cx="607.5" cy="486.5" r="3"/>
<circle cx="608.5" cy="486.5" r="3"/>
<circle cx="608.5" cy="486.5" r="3"/>
<circle cx="609.5" cy="486.5" r="3"/>
<circle cx="609.5" cy="486.5" r="3"/>
<circle cx="610.5" cy="486.5" r="3"/>
<circle cx="610.5" cy="486.5" r="3"/>
<circle cx="610.5" cy="486.5" r="3"/>
<circle cx="611.5" cy="486.5" r="3"/>
<circle cx="611.5" cy="486.5" r="3"/>
<circle cx="612.5" cy="486.5" r="3"/>
<circle cx="612.5" cy="486.5" r="3"/>
<circle cx="613.5" cy="486.5" r="3"/>
<circle cx="613.5" cy="486.5" r="3"/>
<circle cx="613.5" cy="486.5" r="3"/>
<circle cx="614.5" cy="486.5" r="3"/>
<circle cx="614.5" cy="486.5" r="3"/>
<circle cx="615.5" cy="486.5" r="3"/>
<circle cx="615.5" cy="486.5" r="3"/>
<circle cx="616.5" cy="486.5" r="3"/>
<circle cx="616.5" cy="486.5" r="3"/>
<circle cx="616.5" cy="486.5" r="3"/>
<circle cx="617.5" cy="486.5" r="3"/>
<circle cx="617.5" cy="486.5" r="3"/>
<circle cx="618.5" cy="486.5" r="3"/>
<circle cx="618.5" cy="486.5" r="3"/>
<circle cx="619.5" cy="486.5" r="3"/>
<circle cx="619.5" cy="486.5" r="3"/>
<circle cx="620.5" cy="486.5" r="3"/>
<circle cx="620.5" cy="486.5" r="3"/>
<circle cx="620.5" cy="486.5" r="3"/>
<circle cx="621.5" cy="486.5" r="3"/>
<circle cx="621.5" cy="486.5" r="3"/>
<circle cx="622.5" cy="486.5" r="3"/>
<circle cx="622.5" cy="486.5" r="3"/>
<circle cx="623.5" cy="486.5" r="3"/>
<circle cx="623.5" cy="486.5" r="3"/>
<circle cx="623.5" cy="486.5" r="3"/>
<circle cx="624.5" cy="486.5" r="3"/>
<circle cx="624.5" cy="486.5" r="3"/>
<circle cx="625.5" cy="486.5" r="3"/>
<circle cx="625.5" cy="486.5" r="3"/>
<circle cx="626.5" cy="486.5" r="3"/>
<circle cx="626.5" cy="486.5" r="3"/>
<circle cx="626.5" cy="486.5" r="3"/>
<circle cx="627.5" cy="486.5" r="3"/>
<circle cx="627.5" cy="486.5" r="3"/>
<circle cx="628.5" cy="486.5" r="3"/>
<circle cx="628.5" cy="486.5" r="3"/>
<circle cx="629.5" cy="486.5" r="3"/>
<circle cx="629.5" cy="486.5" r="3"/>
<circle cx="629.5" cy="486.5" r="3"/>
<circle cx="630.5" cy="486.5" r="3"/>
<circle cx="630.5" cy="486.5" r="3"/>
<circle cx="631.5" cy="486.5" r="3"/>
<circle cx="631.5" cy="486.5" r="3"/>
<circle cx="696.5" cy="486.5" r="3"/>
<circle cx="697.5" cy="486.5" r="3"/>
<circle cx="697.5" cy="486.5" r="3"/>
<circle cx="698.5" cy="486.5" r="3"/>
<circle cx="698.5" cy="486.5" r="3"/>
<circle cx="699.5" cy="486.5" r="3"/>
<circle cx="699.5" cy="486.5" r="3"/>
<circle cx="699.5" cy="486.5" r="3"/>
<circle cx="700.5" cy="486.5" r="3"/>
<circle cx="700.5" cy="486.5" r="3"/>
<circle cx="701.5" cy="486.5" r="3"/>
<circle cx="701.5" cy="486.5" r="3"/>
<circle cx="702.5" cy="486.5" r="3"/>
<circle cx="702.5" cy="486.5" r="3"/>
<circle cx="702.5" cy="486.5" r="3"/>
<circle cx="703.5" cy="486.5" r="3"/>
<circle cx="703.5" cy="486.5" r="3"/>
<circle cx="704.5" cy="486.5" r="3"/>
<circle cx="704.5" cy="486.5" r="3"/>
<circle cx="705.5" cy="486.5" r="3"/>
<circle cx="705.5" cy="486.5" r="3"/>
<circle cx="705.5" cy="486.5" r="3"/>
<circle cx="706.5" cy="486.5" r="3"/>
<circle cx="706.5" cy="486.5" r="3"/>
<circle cx="707.5" cy="486.5" r="3"/>
<circle cx="707.5" cy="486.5" r="3"/>
<circle cx="708.5" cy="486.5" r="3"/>
<circle cx="708.5" cy="486.5" r="3"/>
<circle cx="708.5" cy="486.5" r="3"/>
<circle cx="709.5" cy="486.5" r="3"/>
<circle cx="709.5" cy="486.5" r="3"/>
<circle cx="710.5" cy="486.5" r="3"/>
<circle cx="710.5" cy="486.5" r="3"/>
<circle cx="711.5" cy="486.5" r="3"/>
<circle cx="711.5" cy="486.5" r="3"/>
<circle cx="712.5" cy="486.5" r="3"/>
<circle cx="712.5" cy="486.5" r="3"/>
<circle cx="712.5" cy="486.5" r="3"/>
<circle cx="713.5" cy="486.5" r="3"/>
<circle cx="713.5" cy="486.5" r="3"/>
<circle cx="714.5" cy="486.5" r="3"/>
<circle cx="714.5" cy="486.5" r="3"/>
<circle cx="715.5" cy="486.5" r="3"/>
<circle cx="715.5" cy="486.5" r="3"/>
<circle cx="715.5" cy="486.5" r="3"/>
<circle cx="716.5" cy="486.5" r="3"/>
<circle cx="716.5" cy="486.5" r="3"/>
<circle cx="717.5" cy="486.5" r="3"/>
<circle cx="717.5" cy="486.5" r="3"/>
<circle cx="718.5" cy="486.5" r="3"/>
<circle cx="718.5" cy="486.5" r="3"/>
<circle cx="718.5" cy="486.5" r="3"/>
<circle cx="719.5" cy="486.5" r="3"/>
<circle cx="719.5" cy="486.5" r="3"/>
<circle cx="720.5" cy="486.5" r="3"/>
<circle cx="720.5" cy="486.5" r="3"/>
<circle cx="721.5" cy="486.5" r="3"/>
<circle cx="721.5" cy="486.5" r="3"/>
<circle cx="721.5" cy="486.5" r="3"/>
<circle cx="722.5" cy="486.5" r="3"/>
<circle cx="722.5" cy="486.5" r="3"/>
<circle cx="723.5" cy="486.5" r="3"/>
<circle cx="723.5" cy="486.5" r="3"/>
<circle cx="724.5" cy="486.5" r="3"/>
<circle cx="724.5" cy="486.5" r="3"/>
<circle cx="724.5" cy="486.5" r="3"/>
<circle cx="725.5" cy="486.5" r="3"/>
<circle cx="725.5" cy="486.5" r="3"/>
<circle cx="726.5" cy="486.5" r="3"/>
<circle cx="726.5" cy="486.5" r="3"/>
<circle cx="727.5" cy="486.5" r="3"/>
<circle cx="727.5" cy="486.5" r="3"/>
<circle cx="727.5" cy="486.5" r="3"/>
<circle cx="728.5" cy="486.5" r="3"/>
<circle cx="728.5" cy="486.5" r="3"/>
<circle cx="729.5" cy="486.5" r="3"/>
<circle cx="729.5" cy="486.5" r="3"/>
<circle cx="730.5" cy="486.5" r="3"/>
<circle cx="730.5" cy="486.5" r="3"/>
<circle cx="731.5" cy="486.5" r="3"/>
<circle cx="731.5" cy="486.5" r="3"/>
<circle cx="731.5" cy="486.5" r="3"/>
<circle cx="732.5" cy="486.5" r="3"/>
<circle cx="732.5" cy="486.5" r="3"/>
<circle cx="733.5" cy="486.5" r="3"/>
<circle cx="733.5" cy="486.5" r="3"/>
<circle cx="734.5" cy="486.5" r="3"/>
<circle cx="734.5" cy="486.5" r="3"/>
<circle cx="197.5" cy="94.5" r="3"/>
<circle cx="194.5" cy="100.5" r="3"/>
<circle cx="198.5" cy="111.5" r="3"/>
<circle cx="198.5" cy="112.5" r="3"/>
<circle cx="197.5" cy="114.5" r="3"/>
<circle cx="193.5" cy="120.5" r="3"/>
<circle cx="196.5" cy="125.5" r="3"/>
<circle cx="197.5" cy="136.5" r="3"/>
<circle cx="193.5" cy="142.5" r="3"/>
<circle cx="195.5" cy="146.5" r="3"/>
<circle cx="194.5" cy="158.5" r="3"/>
<circle cx="195.5" cy="160.5" r="3"/>
<circle cx="192.5" cy="173.5" r="3"/>
<circle cx="190.5" cy="176.5" r="3"/>
<circle cx="191.5" cy="183.5" r="3"/>
<circle cx="192.5" cy="190.5" r="3"/>
<circle cx="190.5" cy="194.5" r="3"/>
<circle cx="191.5" cy="199.5" r="3"/>
<circle cx="195.5" cy="199.5" r="3"/>
<circle cx="200.5" cy="200.5" r="3"/>
<circle cx="192.5" cy="205.5" r="3"/>
<circle cx="199.5" cy="206.5" r="3"/>
<circle cx="203.5" cy="207.5" r="3"/>
<circle cx="202.5" cy="214.5" r="3"/>
<circle cx="189.5" cy="225.5" r="3"/>
<circle cx="189.5" cy="235.5" r="3"/>
<circle cx="200.5" cy="230.5" r="3"/>
<circle cx="202.5" cy="233.5" r="3"/>
<circle cx="202.5" cy="238.5" r="3"/>
<circle cx="189.5" cy="249.5" r="3"/>
<circle cx="188.5" cy="253.5" r="3"/>
<circle cx="199.5" cy="254.5" r="3"/>
<circle cx="204.5" cy="257.5" r="3"/>
<circle cx="203.5" cy="259.5" r="3"/>
<circle cx="186.5" cy="264.5" r="3"/>
<circle cx="204.5" cy="264.5" r="3"/>
<circle cx="201.5" cy="267.5" r="3"/>
<circle cx="185.5" cy="275.5" r="3"/>
<circle cx="188.5" cy="277.5" r="3"/>
<circle cx="187.5" cy="280.5" r="3"/>
<circle cx="208.5" cy="273.5" r="3"/>
<circle cx="205.5" cy="276.5" r="3"/>
<circle cx="186.5" cy="285.5" r="3"/>
<circle cx="211.5" cy="282.5" r="3"/>
<circle cx="207.5" cy="285.5" r="3"/>
<circle cx="211.5" cy="289.5" r="3"/>
<circle cx="184.5" cy="293.5" r="3"/>
<circle cx="184.5" cy="299.5" r="3"/>
<circle cx="211.5" cy="292.5" r="3"/>
<circle cx="208.5" cy="293.5" r="3"/>
<circle cx="209.5" cy="300.5" r="3"/>
<circle cx="183.5" cy="310.5" r="3"/>
<circle cx="187.5" cy="312.5" r="3"/>
<circle cx="210.5" cy="316.5" r="3"/>
<circle cx="183.5" cy="326.5" r="3"/>
<circle cx="186.5" cy="329.5" r="3"/>
<circle cx="210.5" cy="326.5" r="3"/>
<circle cx="207.5" cy="335.5" r="3"/>
<circle cx="208.5" cy="338.5" r="3"/>
<circle cx="183.5" cy="348.5" r="3"/>
<circle cx="215.5" cy="347.5" r="3"/>
<circle cx="213.5" cy="348.5" r="3"/>
<circle cx="206.5" cy="350.5" r="3"/>
<circle cx="210.5" cy="352.5" r="3"/>
<circle cx="213.5" cy="356.5" r="3"/>
<circle cx="214.5" cy="358.5" r="3"/>
<circle cx="178.5" cy="356.5" r="3"/>
<circle cx="177.5" cy="358.5" r="3"/>
<circle cx="178.5" cy="365.5" r="3"/>
<circle cx="177.5" cy="375.5" r="3"/>
<circle cx="182.5" cy="376.5" r="3"/>
<circle cx="182.5" cy="386.5" r="3"/>
<circle cx="176.5" cy="389.5" r="3"/>
<circle cx="181.5" cy="392.5" r="3"/>
<circle cx="176.5" cy="402.5" r="3"/>
<circle cx="181.5" cy="410.5" r="3"/>
<circle cx="180.5" cy="415.5" r="3"/>
<circle cx="176.5" cy="418.5" r="3"/>
<circle cx="180.5" cy="419.5" r="3"/>
<circle cx="180.5" cy="422.5" r="3"/>
<circle cx="206.5" cy="371.5" r="3"/>
<circle cx="205.5" cy="379.5" r="3"/>
<circle cx="205.5" cy="389.5" r="3"/>
<circle cx="201.5" cy="400.5" r="3"/>
<circle cx="215.5" cy="360.5" r="3"/>
<circle cx="216.5" cy="362.5" r="3"/>
<circle cx="218.5" cy="364.5" r="3"/>
<circle cx="219.5" cy="370.5" r="3"/>
<circle cx="218.5" cy="372.5" r="3"/>
<circle cx="218.5" cy="379.5" r="3"/>
<circle cx="217.5" cy="380.5" r="3"/>
<circle cx="217.5" cy="387.5" r="3"/>
<circle cx="219.5" cy="396.5" r="3"/>
<circle cx="212.5" cy="401.5" r="3"/>
<circle cx="215.5" cy="401.5" r="3"/>
<circle cx="216.5" cy="402.5" r="3"/>
<circle cx="216.5" cy="406.5" r="3"/>
<circle cx="215.5" cy="412.5" r="3"/>
<circle cx="220.5" cy="424.5" r="3"/>
<circle cx="175.5" cy="432.5" r="3"/>
<circle cx="175.5" cy="441.5" r="3"/>
<circle cx="174.5" cy="444.5" r="3"/>
<circle cx="179.5" cy="448.5" r="3"/>
<circle cx="173.5" cy="451.5" r="3"/>
<circle cx="173.5" cy="454.5" r="3"/>
<circle cx="172.5" cy="457.5" r="3"/>
<circle cx="173.5" cy="459.5" r="3"/>
<circle cx="172.5" cy="464.5" r="3"/>
<circle cx="171.5" cy="470.5" r="3"/>
<circle cx="171.5" cy="472.5" r="3"/>
<circle cx="222.5" cy="427.5" r="3"/>
<circle cx="220.5" cy="440.5" r="3"/>
<circle cx="222.5" cy="447.5" r="3"/>
<circle cx="221.5" cy="451.5" r="3"/>
<circle cx="221.5" cy="459.5" r="3"/>
<circle cx="221.5" cy="460.5" r="3"/>
<circle cx="348.5" cy="175.5" r="3"/>
<circle cx="354.5" cy="177.5" r="3"/>
<circle cx="347.5" cy="187.5" r="3"/>
<circle cx="357.5" cy="185.5" r="3"/>
<circle cx="356.5" cy="188.5" r="3"/>
<circle cx="356.5" cy="190.5" r="3"/>
<circle cx="357.5" cy="197.5" r="3"/>
<circle cx="346.5" cy="197.5" r="3"/>
<circle cx="350.5" cy="199.5" r="3"/>
<circle cx="347.5" cy="202.5" r="3"/>
<circle cx="353.5" cy="200.5" r="3"/>
<circle cx="351.5" cy="201.5" r="3"/>
<circle cx="349.5" cy="206.5" r="3"/>
<circle cx="346.5" cy="226.5" r="3"/>
<circle cx="345.5" cy="230.5" r="3"/>
<circle cx="353.5" cy="230.5" r="3"/>
<circle cx="354.5" cy="231.5" r="3"/>
<circle cx="348.5" cy="240.5" r="3"/>
<circle cx="355.5" cy="240.5" r="3"/>
<circle cx="355.5" cy="245.5" r="3"/>
<circle cx="342.5" cy="250.5" r="3"/>
<circle cx="360.5" cy="252.5" r="3"/>
<circle cx="350.5" cy="259.5" r="3"/>
<circle cx="352.5" cy="263.5" r="3"/>
<circle cx="351.5" cy="265.5" r="3"/>
<circle cx="358.5" cy="264.5" r="3"/>
<circle cx="360.5" cy="265.5" r="3"/>
<circle cx="351.5" cy="276.5" r="3"/>
<circle cx="361.5" cy="277.5" r="3"/>
<circle cx="365.5" cy="280.5" r="3"/>
<circle cx="342.5" cy="278.5" r="3"/>
<circle cx="342.5" cy="280.5" r="3"/>
<circle cx="345.5" cy="285.5" r="3"/>
<circle cx="344.5" cy="286.5" r="3"/>
<circle cx="345.5" cy="288.5" r="3"/>
<circle cx="352.5" cy="293.5" r="3"/>
<circle cx="365.5" cy="287.5" r="3"/>
<circle cx="359.5" cy="291.5" r="3"/>
<circle cx="364.5" cy="291.5" r="3"/>
<circle cx="369.5" cy="290.5" r="3"/>
<circle cx="361.5" cy="295.5" r="3"/>
<circle cx="366.5" cy="293.5" r="3"/>
<circle cx="370.5" cy="294.5" r="3"/>
<circle cx="368.5" cy="297.5" r="3"/>
<circle cx="375.5" cy="298.5" r="3"/>
<circle cx="363.5" cy="301.5" r="3"/>
<circle cx="363.5" cy="310.5" r="3"/>
<circle cx="364.5" cy="313.5" r="3"/>
<circle cx="355.5" cy="315.5" r="3"/>
<circle cx="374.5" cy="319.5" r="3"/>
<circle cx="362.5" cy="324.5" r="3"/>
<circle cx="351.5" cy="329.5" r="3"/>
<circle cx="374.5" cy="333.5" r="3"/>
<circle cx="374.5" cy="334.5" r="3"/>
<circle cx="339.5" cy="333.5" r="3"/>
<circle cx="341.5" cy="333.5" r="3"/>
<circle cx="359.5" cy="336.5" r="3"/>
<circle cx="343.5" cy="339.5" r="3"/>
<circle cx="340.5" cy="341.5" r="3"/>
<circle cx="367.5" cy="338.5" r="3"/>
<circle cx="357.5" cy="341.5" r="3"/>
<circle cx="362.5" cy="340.5" r="3"/>
<circle cx="366.5" cy="341.5" r="3"/>
<circle cx="340.5" cy="350.5" r="3"/>
<circle cx="369.5" cy="348.5" r="3"/>
<circle cx="364.5" cy="349.5" r="3"/>
<circle cx="361.5" cy="350.5" r="3"/>
<circle cx="367.5" cy="353.5" r="3"/>
<circle cx="378.5" cy="353.5" r="3"/>
<circle cx="378.5" cy="355.5" r="3"/>
<circle cx="373.5" cy="360.5" r="3"/>
<circle cx="371.5" cy="362.5" r="3"/>
<circle cx="358.5" cy="364.5" r="3"/>
<circle cx="348.5" cy="368.5" r="3"/>
<circle cx="376.5" cy="371.5" r="3"/>
<circle cx="375.5" cy="373.5" r="3"/>
<circle cx="338.5" cy="376.5" r="3"/>
<circle cx="339.5" cy="377.5" r="3"/>
<circle cx="344.5" cy="383.5" r="3"/>
<circle cx="372.5" cy="382.5" r="3"/>
<circle cx="368.5" cy="385.5" r="3"/>
<circle cx="376.5" cy="388.5" r="3"/>
<circle cx="380.5" cy="391.5" r="3"/>
<circle cx="336.5" cy="388.5" r="3"/>
<circle cx="338.5" cy="389.5" r="3"/>
<circle cx="339.5" cy="388.5" r="3"/>
<circle cx="343.5" cy="397.5" r="3"/>
<circle cx="336.5" cy="401.5" r="3"/>
<circle cx="377.5" cy="397.5" r="3"/>
<circle cx="370.5" cy="400.5" r="3"/>
<circle cx="337.5" cy="407.5" r="3"/>
<circle cx="379.5" cy="406.5" r="3"/>
<circle cx="331.5" cy="414.5" r="3"/>
<circle cx="334.5" cy="414.5" r="3"/>
<circle cx="371.5" cy="411.5" r="3"/>
<circle cx="371.5" cy="412.5" r="3"/>
<circle cx="377.5" cy="413.5" r="3"/>
<circle cx="380.5" cy="418.5" r="3"/>
<circle cx="379.5" cy="420.5" r="3"/>
<circle cx="334.5" cy="420.5" r="3"/>
<circle cx="330.5" cy="423.5" r="3"/>
<circle cx="335.5" cy="424.5" r="3"/>
<circle cx="330.5" cy="428.5" r="3"/>
<circle cx="336.5" cy="427.5" r="3"/>
<circle cx="338.5" cy="429.5" r="3"/>
<circle cx="333.5" cy="430.5" r="3"/>
<circle cx="331.5" cy="432.5" r="3"/>
<circle cx="330.5" cy="434.5" r="3"/>
<circle cx="333.5" cy="435.5" r="3"/>
<circle cx="332.5" cy="437.5" r="3"/>
<circle cx="329.5" cy="444.5" r="3"/>
<circle cx="333.5" cy="446.5" r="3"/>
<circle cx="329.5" cy="455.5" r="3"/>
<circle cx="329.5" cy="463.5" r="3"/>
<circle cx="328.5" cy="470.5" r="3"/>
<circle cx="366.5" cy="433.5" r="3"/>
<circle cx="367.5" cy="444.5" r="3"/>
<circle cx="371.5" cy="448.5" r="3"/>
<circle cx="377.5" cy="453.5" r="3"/>
<circle cx="506.5" cy="96.5" r="3"/>
<circle cx="505.5" cy="109.5" r="3"/>
<circle cx="507.5" cy="114.5" r="3"/>
<circle cx="504.5" cy="122.5" r="3"/>
<circle cx="513.5" cy="123.5" r="3"/>
<circle cx="505.5" cy="138.5" r="3"/>
<circle cx="514.5" cy="136.5" r="3"/>
<circle cx="514.5" cy="137.5" r="3"/>
<circle cx="512.5" cy="143.5" r="3"/>
<circle cx="513.5" cy="150.5" r="3"/>
<circle cx="515.5" cy="150.5" r="3"/>
<circle cx="500.5" cy="155.5" r="3"/>
<circle cx="514.5" cy="156.5" r="3"/>
<circle cx="507.5" cy="167.5" r="3"/>
<circle cx="506.5" cy="168.5" r="3"/>
<circle cx="515.5" cy="165.5" r="3"/>
<circle cx="516.5" cy="168.5" r="3"/>
<circle cx="516.5" cy="171.5" r="3"/>
<circle cx="508.5" cy="177.5" r="3"/>
<circle cx="503.5" cy="185.5" r="3"/>
<circle cx="517.5" cy="187.5" r="3"/>
<circle cx="504.5" cy="190.5" r="3"/>
<circle cx="504.5" cy="194.5" r="3"/>
<circle cx="511.5" cy="192.5" r="3"/>
<circle cx="512.5" cy="192.5" r="3"/>
<circle cx="522.5" cy="194.5" r="3"/>
<circle cx="499.5" cy="200.5" r="3"/>
<circle cx="502.5" cy="203.5" r="3"/>
<circle cx="523.5" cy="207.5" r="3"/>
<circle cx="523.5" cy="209.5" r="3"/>
<circle cx="524.5" cy="213.5" r="3"/>
<circle cx="499.5" cy="215.5" r="3"/>
<circle cx="511.5" cy="214.5" r="3"/>
<circle cx="501.5" cy="230.5" r="3"/>
<circle cx="498.5" cy="241.5" r="3"/>
<circle cx="522.5" cy="240.5" r="3"/>
<circle cx="511.5" cy="243.5" r="3"/>
<circle cx="510.5" cy="244.5" r="3"/>
<circle cx="517.5" cy="248.5" r="3"/>
<circle cx="500.5" cy="252.5" r="3"/>
<circle cx="498.5" cy="259.5" r="3"/>
<circle cx="503.5" cy="260.5" r="3"/>
<circle cx="498.5" cy="265.5" r="3"/>
<circle cx="501.5" cy="267.5" r="3"/>
<circle cx="521.5" cy="261.5" r="3"/>
<circle cx="520.5" cy="262.5" r="3"/>
<circle cx="520.5" cy="279.5" r="3"/>
<circle cx="509.5" cy="282.5" r="3"/>
<circle cx="518.5" cy="285.5" r="3"/>
<circle cx="531.5" cy="290.5" r="3"/>
<circle cx="501.5" cy="293.5" r="3"/>
<circle cx="497.5" cy="300.5" r="3"/>
<circle cx="524.5" cy="304.5" r="3"/>
<circle cx="518.5" cy="307.5" r="3"/>
<circle cx="519.5" cy="312.5" r="3"/>
<circle cx="520.5" cy="314.5" r="3"/>
<circle cx="525.5" cy="318.5" r="3"/>
<circle cx="502.5" cy="327.5" r="3"/>
<circle cx="530.5" cy="331.5" r="3"/>
<circle cx="497.5" cy="338.5" r="3"/>
<circle cx="508.5" cy="343.5" r="3"/>
<circle cx="510.5" cy="346.5" r="3"/>
<circle cx="530.5" cy="341.5" r="3"/>
<circle cx="531.5" cy="342.5" r="3"/>
<circle cx="529.5" cy="345.5" r="3"/>
<circle cx="517.5" cy="351.5" r="3"/>
<circle cx="496.5" cy="352.5" r="3"/>
<circle cx="508.5" cy="355.5" r="3"/>
<circle cx="527.5" cy="354.5" r="3"/>
<circle cx="496.5" cy="362.5" r="3"/>
<circle cx="495.5" cy="363.5" r="3"/>
<circle cx="529.5" cy="360.5" r="3"/>
<circle cx="527.5" cy="362.5" r="3"/>
<circle cx="525.5" cy="364.5" r="3"/>
<circle cx="528.5" cy="366.5" r="3"/>
<circle cx="527.5" cy="370.5" r="3"/>
<circle cx="530.5" cy="372.5" r="3"/>
<circle cx="519.5" cy="375.5" r="3"/>
<circle cx="532.5" cy="381.5" r="3"/>
<circle cx="521.5" cy="383.5" r="3"/>
<circle cx="528.5" cy="389.5" r="3"/>
<circle cx="495.5" cy="387.5" r="3"/>
<circle cx="509.5" cy="391.5" r="3"/>
<circle cx="489.5" cy="393.5" r="3"/>
<circle cx="490.5" cy="394.5" r="3"/>
<circle cx="493.5" cy="395.5" r="3"/>
<circle cx="495.5" cy="396.5" r="3"/>
<circle cx="533.5" cy="398.5" r="3"/>
<circle cx="532.5" cy="400.5" r="3"/>
<circle cx="533.5" cy="403.5" r="3"/>
<circle cx="489.5" cy="407.5" r="3"/>
<circle cx="494.5" cy="410.5" r="3"/>
<circle cx="492.5" cy="412.5" r="3"/>
<circle cx="488.5" cy="420.5" r="3"/>
<circle cx="491.5" cy="419.5" r="3"/>
<circle cx="491.5" cy="421.5" r="3"/>
<circle cx="492.5" cy="424.5" r="3"/>
<circle cx="493.5" cy="426.5" r="3"/>
<circle cx="488.5" cy="431.5" r="3"/>
<circle cx="487.5" cy="433.5" r="3"/>
<circle cx="487.5" cy="436.5" r="3"/>
<circle cx="486.5" cy="443.5" r="3"/>
<circle cx="494.5" cy="448.5" r="3"/>
<circle cx="485.5" cy="448.5" r="3"/>
<circle cx="485.5" cy="451.5" r="3"/>
<circle cx="485.5" cy="455.5" r="3"/>
<circle cx="485.5" cy="461.5" r="3"/>
<circle cx="484.5" cy="468.5" r="3"/>
<circle cx="484.5" cy="473.5" r="3"/>
<circle cx="526.5" cy="422.5" r="3"/>
<circle cx="534.5" cy="429.5" r="3"/>
<circle cx="535.5" cy="442.5" r="3"/>
<circle cx="535.5" cy="444.5" r="3"/>
<circle cx="536.5" cy="452.5" r="3"/>
<circle cx="536.5" cy="459.5" r="3"/>
<circle cx="534.5" cy="466.5" r="3"/>
<circle cx="536.5" cy="472.5" r="3"/>
<circle cx="537.5" cy="475.5" r="3"/>
<circle cx="537.5" cy="480.5" r="3"/>
<circle cx="660.5" cy="112.5" r="3"/>
<circle cx="660.5" cy="124.5" r="3"/>
<circle cx="664.5" cy="133.5" r="3"/>
<circle cx="673.5" cy="133.5" r="3"/>
<circle cx="673.5" cy="135.5" r="3"/>
<circle cx="673.5" cy="138.5" r="3"/>
<circle cx="672.5" cy="141.5" r="3"/>
<circle cx="671.5" cy="143.5" r="3"/>
<circle cx="672.5" cy="146.5" r="3"/>
<circle cx="674.5" cy="149.5" r="3"/>
<circle cx="673.5" cy="150.5" r="3"/>
<circle cx="664.5" cy="142.5" r="3"/>
<circle cx="665.5" cy="146.5" r="3"/>
<circle cx="659.5" cy="151.5" r="3"/>
<circle cx="670.5" cy="152.5" r="3"/>
<circle cx="663.5" cy="161.5" r="3"/>
<circle cx="667.5" cy="161.5" r="3"/>
<circle cx="664.5" cy="169.5" r="3"/>
<circle cx="663.5" cy="176.5" r="3"/>
<circle cx="665.5" cy="181.5" r="3"/>
<circle cx="670.5" cy="180.5" r="3"/>
<circle cx="670.5" cy="181.5" r="3"/>
<circle cx="658.5" cy="191.5" r="3"/>
<circle cx="660.5" cy="196.5" r="3"/>
<circle cx="668.5" cy="199.5" r="3"/>
<circle cx="681.5" cy="199.5" r="3"/>
<circle cx="680.5" cy="205.5" r="3"/>
<circle cx="681.5" cy="211.5" r="3"/>
<circle cx="680.5" cy="214.5" r="3"/>
<circle cx="682.5" cy="216.5" r="3"/>
<circle cx="659.5" cy="207.5" r="3"/>
<circle cx="656.5" cy="209.5" r="3"/>
<circle cx="657.5" cy="217.5" r="3"/>
<circle cx="669.5" cy="222.5" r="3"/>
<circle cx="668.5" cy="225.5" r="3"/>
<circle cx="667.5" cy="228.5" r="3"/>
<circle cx="674.5" cy="229.5" r="3"/>
<circle cx="657.5" cy="227.5" r="3"/>
<circle cx="680.5" cy="236.5" r="3"/>
<circle cx="655.5" cy="238.5" r="3"/>
<circle cx="658.5" cy="238.5" r="3"/>
<circle cx="661.5" cy="239.5" r="3"/>
<circle cx="666.5" cy="240.5" r="3"/>
<circle cx="655.5" cy="245.5" r="3"/>
<circle cx="657.5" cy="247.5" r="3"/>
<circle cx="654.5" cy="248.5" r="3"/>
<circle cx="667.5" cy="248.5" r="3"/>
<circle cx="678.5" cy="246.5" r="3"/>
<circle cx="679.5" cy="254.5" r="3"/>
<circle cx="653.5" cy="262.5" r="3"/>
<circle cx="652.5" cy="272.5" r="3"/>
<circle cx="661.5" cy="274.5" r="3"/>
<circle cx="677.5" cy="271.5" r="3"/>
<circle cx="677.5" cy="288.5" r="3"/>
<circle cx="675.5" cy="289.5" r="3"/>
<circle cx="653.5" cy="293.5" r="3"/>
<circle cx="652.5" cy="297.5" r="3"/>
<circle cx="669.5" cy="297.5" r="3"/>
<circle cx="676.5" cy="296.5" r="3"/>
<circle cx="666.5" cy="303.5" r="3"/>
<circle cx="654.5" cy="309.5" r="3"/>
<circle cx="662.5" cy="310.5" r="3"/>
<circle cx="687.5" cy="307.5" r="3"/>
<circle cx="682.5" cy="309.5" r="3"/>
<circle cx="689.5" cy="313.5" r="3"/>
<circle cx="678.5" cy="314.5" r="3"/>
<circle cx="651.5" cy="326.5" r="3"/>
<circle cx="688.5" cy="323.5" r="3"/>
<circle cx="686.5" cy="325.5" r="3"/>
<circle cx="687.5" cy="327.5" r="3"/>
<circle cx="688.5" cy="332.5" r="3"/>
<circle cx="676.5" cy="335.5" r="3"/>
<circle cx="675.5" cy="336.5" r="3"/>
<circle cx="651.5" cy="348.5" r="3"/>
<circle cx="685.5" cy="347.5" r="3"/>
<circle cx="683.5" cy="349.5" r="3"/>
<circle cx="689.5" cy="355.5" r="3"/>
<circle cx="679.5" cy="359.5" r="3"/>
<circle cx="684.5" cy="360.5" r="3"/>
<circle cx="685.5" cy="363.5" r="3"/>
<circle cx="683.5" cy="365.5" r="3"/>
<circle cx="686.5" cy="374.5" r="3"/>
<circle cx="686.5" cy="376.5" r="3"/>
<circle cx="654.5" cy="371.5" r="3"/>
<circle cx="650.5" cy="376.5" r="3"/>
<circle cx="656.5" cy="376.5" r="3"/>
<circle cx="649.5" cy="387.5" r="3"/>
<circle cx="649.5" cy="388.5" r="3"/>
<circle cx="684.5" cy="388.5" r="3"/>
<circle cx="691.5" cy="388.5" r="3"/>
<circle cx="690.5" cy="391.5" r="3"/>
<circle cx="691.5" cy="395.5" r="3"/>
<circle cx="651.5" cy="399.5" r="3"/>
<circle cx="662.5" cy="401.5" r="3"/>
<circle cx="676.5" cy="402.5" r="3"/>
<circle cx="683.5" cy="400.5" r="3"/>
<circle cx="689.5" cy="401.5" r="3"/>
<circle cx="648.5" cy="412.5" r="3"/>
<circle cx="650.5" cy="412.5" r="3"/>
<circle cx="648.5" cy="416.5" r="3"/>
<circle cx="648.5" cy="420.5" r="3"/>
<circle cx="648.5" cy="423.5" r="3"/>
<circle cx="647.5" cy="426.5" r="3"/>
<circle cx="646.5" cy="429.5" r="3"/>
<circle cx="645.5" cy="432.5" r="3"/>
<circle cx="645.5" cy="436.5" r="3"/>
<circle cx="645.5" cy="439.5" r="3"/>
<circle cx="645.5" cy="443.5" r="3"/>
<circle cx="644.5" cy="446.5" r="3"/>
<circle cx="644.5" cy="450.5" r="3"/>
<circle cx="643.5" cy="452.5" r="3"/>
<circle cx="643.5" cy="456.5" r="3"/>
<circle cx="642.5" cy="461.5" r="3"/>
<circle cx="641.5" cy="465.5" r="3"/>
<circle cx="641.5" cy="467.5" r="3"/>
<circle cx="640.5" cy="471.5" r="3"/>
<circle cx="640.5" cy="474.5" r="3"/>
<circle cx="692.5" cy="438.5" r="3"/>
<circle cx="693.5" cy="440.5" r="3"/>
<circle cx="693.5" cy="442.5" r="3"/>
<circle cx="694.5" cy="446.5" r="3"/>
<circle cx="692.5" cy="448.5" r="3"/>
<circle cx="695.5" cy="460.5" r="3"/>
<circle cx="695.5" cy="460.5" r="3"/>
<circle cx="695.5" cy="466.5" r="3"/>
<circle cx="695.5" cy="469.5" r="3"/>
<circle cx="157.5" cy="486.5" r="3"/>
<circle cx="158.5" cy="486.5" r="3"/>
<circle cx="158.5" cy="486.5" r="3"/>
<circle cx="159.5" cy="486.5" r="3"/>
<circle cx="159.5" cy="485.5" r="3"/>
<circle cx="160.5" cy="485.5" r="3"/>
<circle cx="160.5" cy="485.5" r="3"/>
<circle cx="160.5" cy="485.5" r="3"/>
<circle cx="161.5" cy="484.5" r="3"/>
<circle cx="161.5" cy="484.5" r="3"/>
<circle cx="162.5" cy="484.5" r="3"/>
<circle cx="162.5" cy="484.5" r="3"/>
<circle cx="163.5" cy="483.5" r="3"/>
<circle cx="163.5" cy="483.5" r="3"/>
<circle cx="163.5" cy="482.5" r="3"/>
<circle cx="164.5" cy="482.5" r="3"/>
<circle cx="164.5" cy="482.5" r="3"/>
<circle cx="165.5" cy="481.5" r="3"/>
<circle cx="165.5" cy="481.5" r="3"/>
<circle cx="166.5" cy="480.5" r="3"/>
<circle cx="166.5" cy="480.5" r="3"/>
<circle cx="166.5" cy="479.5" r="3"/>
<circle cx="167.5" cy="479.5" r="3"/>
<circle cx="167.5" cy="478.5" r="3"/>
<circle cx="168.5" cy="478.5" r="3"/>
<circle cx="168.5" cy="477.5" r="3"/>
<circle cx="169.5" cy="477.5" r="3"/>
<circle cx="169.5" cy="476.5" r="3"/>
<circle cx="170.5" cy="475.5" r="3"/>
<circle cx="318.5" cy="486.5" r="3"/>
<circle cx="318.5" cy="486.5" r="3"/>
<circle cx="319.5" cy="485.5" r="3"/>
<circle cx="319.5" cy="485.5" r="3"/>
<circle cx="319.5" cy="484.5" r="3"/>
<circle cx="320.5" cy="484.5" r="3"/>
<circle cx="320.5" cy="483.5" r="3"/>
<circle cx="321.5" cy="482.5" r="3"/>
<circle cx="321.5" cy="482.5" r="3"/>
<circle cx="322.5" cy="481.5" r="3"/>
<circle cx="322.5" cy="481.5" r="3"/>
<circle cx="322.5" cy="480.5" r="3"/>
<circle cx="323.5" cy="480.5" r="3"/>
<circle cx="323.5" cy="479.5" r="3"/>
<circle cx="324.5" cy="478.5" r="3"/>
<circle cx="324.5" cy="478.5" r="3"/>
<circle cx="325.5" cy="477.5" r="3"/>
<circle cx="325.5" cy="476.5" r="3"/>
<circle cx="325.5" cy="476.5" r="3"/>
<circle cx="326.5" cy="475.5" r="3"/>
<circle cx="326.5" cy="474.5" r="3"/>
<circle cx="327.5" cy="474.5" r="3"/>
<circle cx="327.5" cy="473.5" r="3"/>
<circle cx="328.5" cy="472.5" r="3"/>
<circle cx="632.5" cy="486.5" r="3"/>
<circle cx="632.5" cy="486.5" r="3"/>
<circle cx="632.5" cy="486.5" r="3"/>
<circle cx="633.5" cy="486.5" r="3"/>
<circle cx="633.5" cy="485.5" r="3"/>
<circle cx="634.5" cy="485.5" r="3"/>
<circle cx="634.5" cy="485.5" r="3"/>
<circle cx="635.5" cy="484.5" r="3"/>
<circle cx="635.5" cy="484.5" r="3"/>
<circle cx="635.5" cy="483.5" r="3"/>
<circle cx="636.5" cy="482.5" r="3"/>
<circle cx="636.5" cy="482.5" r="3"/>
<circle cx="637.5" cy="481.5" r="3"/>
<circle cx="637.5" cy="480.5" r="3"/>
<circle cx="638.5" cy="479.5" r="3"/>
<circle cx="638.5" cy="478.5" r="3"/>
<circle cx="639.5" cy="477.5" r="3"/>
<circle cx="639.5" cy="476.5" r="3"/>
<circle cx="639.5" cy="475.5" r="3"/>
<circle cx="474.5" cy="486.5" r="3"/>
<circle cx="474.5" cy="485.5" r="3"/>
<circle cx="474.5" cy="485.5" r="3"/>
<circle cx="475.5" cy="485.5" r="3"/>
<circle cx="475.5" cy="484.5" r="3"/>
<circle cx="476.5" cy="484.5" r="3"/>
<circle cx="476.5" cy="484.5" r="3"/>
<circle cx="477.5" cy="483.5" r="3"/>
<circle cx="477.5" cy="483.5" r="3"/>
<circle cx="477.5" cy="482.5" r="3"/>
<circle cx="478.5" cy="482.5" r="3"/>
<circle cx="478.5" cy="482.5" r="3"/>
<circle cx="479.5" cy="481.5" r="3"/>
<circle cx="479.5" cy="481.5" r="3"/>
<circle cx="480.5" cy="480.5" r="3"/>
<circle cx="480.5" cy="480.5" r="3"/>
<circle cx="480.5" cy="480.5" r="3"/>
<circle cx="481.5" cy="479.5" r="3"/>
<circle cx="481.5" cy="479.5" r="3"/>
<circle cx="482.5" cy="478.5" r="3"/>
<circle cx="482.5" cy="476.5" r="3"/>
<circle cx="483.5" cy="474.5" r="3"/>
<circle cx="483.5" cy="473.5" r="3"/>
<circle cx="483.5" cy="471.5" r="3"/>
</g>
<g font-family="Liberation Sans, sans-serif" font-size="16" fill="#000" text-anchor="middle">
<text x="103.5" y="536.5">0</text>
<text x="319.4" y="536.5">500</text>
<text x="535.4" y="536.5">1000</text>
<text x="751.3" y="536.5">1500</text>
<text x="418.8" y="575.5">Index</text>
<text transform="translate(55.8,485.6) rotate(-90)">0</text>
<text transform="translate(55.8,408.8) rotate(-90)">5</text>
<text transform="translate(55.8,332.0) rotate(-90)">10</text>
<text transform="translate(55.8,255.2) rotate(-90)">15</text>
<text transform="translate(55.8,178.4) rotate(-90)">20</text>
<text transform="translate(55.8,101.6) rotate(-90)">25</text>
<text transform="translate(17.2,290.4) rotate(-90)">gpp * 1000</text>
</g></svg></body></html>
